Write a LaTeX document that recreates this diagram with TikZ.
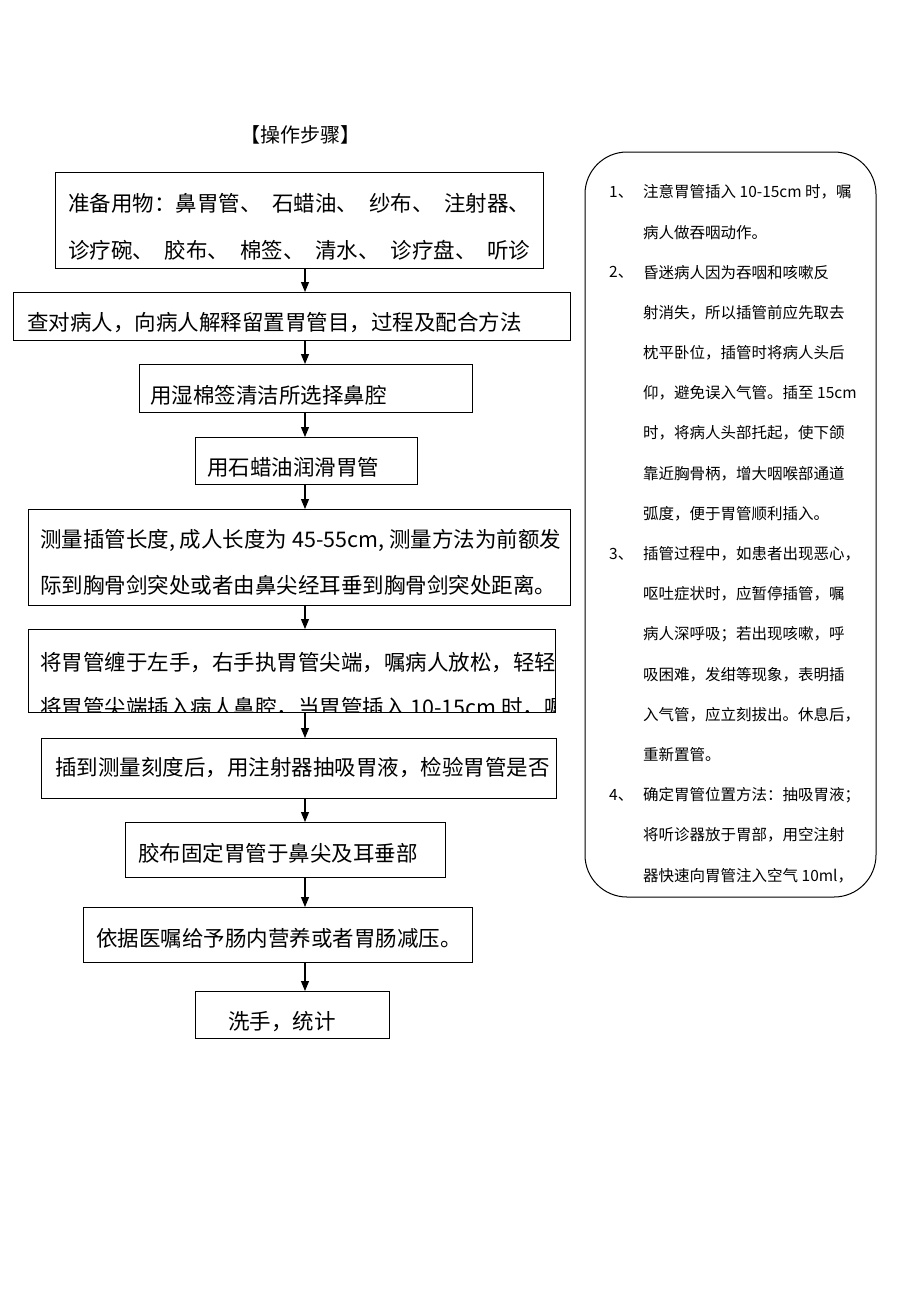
\documentclass[tikz,border=0pt]{standalone}
\usepackage{fontspec}
\setmainfont{Noto Sans CJK SC}
\usetikzlibrary{arrows.meta}

\tikzset{
  stepbox/.style={draw, line width=1pt, inner sep=0pt, outer sep=0pt, anchor=north west},
  steptext/.style={anchor=west, inner sep=0pt, font=\fontsize{21.5pt}{26pt}\selectfont},
  notetext/.style={anchor=west, inner sep=0pt, font=\fontsize{15.5pt}{20pt}\selectfont},
  flow/.style={line width=1.1pt, -{Triangle[length=10pt,width=8pt]}},
}

\begin{document}
\begin{tikzpicture}[x=1pt,y=-1pt]
\useasboundingbox (0,0) rectangle (920,1302);

\node[font=\fontsize{20pt}{24pt}\selectfont] (title) at (300,135) {【操作步骤】};

% step boxes
\node[stepbox, minimum width=488, minimum height=96] (b1) at (55,172) {};
\node[stepbox, minimum width=557, minimum height=48] (b2) at (13,292) {};
\node[stepbox, minimum width=333, minimum height=48] (b3) at (139,364) {};
\node[stepbox, minimum width=222, minimum height=47] (b4) at (195,437) {};
\node[stepbox, minimum width=542, minimum height=96] (b5) at (28,509) {};
\node[stepbox, minimum width=527, minimum height=83] (b6) at (28,629) {};
\node[stepbox, minimum width=515, minimum height=60] (b7) at (41,738) {};
\node[stepbox, minimum width=320, minimum height=55] (b8) at (125,822) {};
\node[stepbox, minimum width=389, minimum height=55] (b9) at (83,907) {};
\node[stepbox, minimum width=194, minimum height=47] (b10) at (195,991) {};

\node[steptext] (t1a) at (68,203) {准备用物：鼻胃管、\hspace{0.5em}石蜡油、\hspace{0.5em}纱布、\hspace{0.5em}注射器、};
\node[steptext] (t1b) at (68,250) {诊疗碗、\hspace{0.5em}胶布、\hspace{0.5em}棉签、\hspace{0.5em}清水、\hspace{0.5em}诊疗盘、\hspace{0.5em}听诊};
\node[steptext] (t2) at (27,323) {查对病人，向病人解释留置胃管目，过程及配合方法};
\node[steptext] (t3) at (150,395) {用湿棉签清洁所选择鼻腔};
\node[steptext] (t4) at (207,467) {用石蜡油润滑胃管};
\node[steptext] (t5a) at (40,540) {测量插管长度, 成人长度为 45-55cm, 测量方法为前额发};
\node[steptext] (t5b) at (40,585) {际到胸骨剑突处或者由鼻尖经耳垂到胸骨剑突处距离。};
\node[steptext] (t6a) at (40,662) {将胃管缠于左手，右手执胃管尖端，嘱病人放松，轻轻};
\begin{scope}
  \clip (b6.north west) rectangle (b6.south east);
  \node[steptext] (t6b) at (40,708) {将胃管尖端插入病人鼻腔，当胃管插入 10-15cm 时，嘱};
\end{scope}
\node[steptext] (t7) at (55,768) {插到测量刻度后，用注射器抽吸胃液，检验胃管是否};
\node[steptext] (t8) at (138,853) {胶布固定胃管于鼻尖及耳垂部};
\node[steptext] (t9) at (96,938) {依据医嘱给予肠内营养或者胃肠减压。};
\node[steptext] (t10) at (228,1022) {洗手，统计};

% arrows down the middle
\coordinate (ax) at (305,0);
\foreach \a/\b in {b1/b2, b2/b3, b3/b4, b4/b5, b5/b6, b6/b7, b7/b8, b8/b9, b9/b10}
  \draw[flow] (\a.south -| ax) -- (\b.north -| ax);

% notes
\node[stepbox, rounded corners=42pt, minimum width=291, minimum height=745] (notes) at (585,152) {};
\foreach \n/\i in {1/1, 2/3, 3/10, 4/16}
  \node[notetext] (k\n) at (609,{192+(\i-1)*40.2}) {\n、};
\foreach \t [count=\i] in {注意胃管插入 10-15cm 时，嘱, 病人做吞咽动作。,
    昏迷病人因为吞咽和咳嗽反, 射消失，所以插管前应先取去, 枕平卧位，插管时将病人头后,
    仰，避免误入气管。插至 15cm, 时，将病人头部托起，使下颌, 靠近胸骨柄，增大咽喉部通道,
    弧度，便于胃管顺利插入。, 插管过程中，如患者出现恶心，, 呕吐症状时，应暂停插管，嘱,
    病人深呼吸；若出现咳嗽，呼, 吸困难，发绀等现象，表明插, 入气管，应立刻拔出。休息后，,
    重新置管。, 确定胃管位置方法：抽吸胃液；, 将听诊器放于胃部，用空注射,
    器快速向胃管注入空气 10ml，}
  \node[notetext] (r\i) at (643,{192+(\i-1)*40.2}) {\t};
\end{tikzpicture}
\end{document}
